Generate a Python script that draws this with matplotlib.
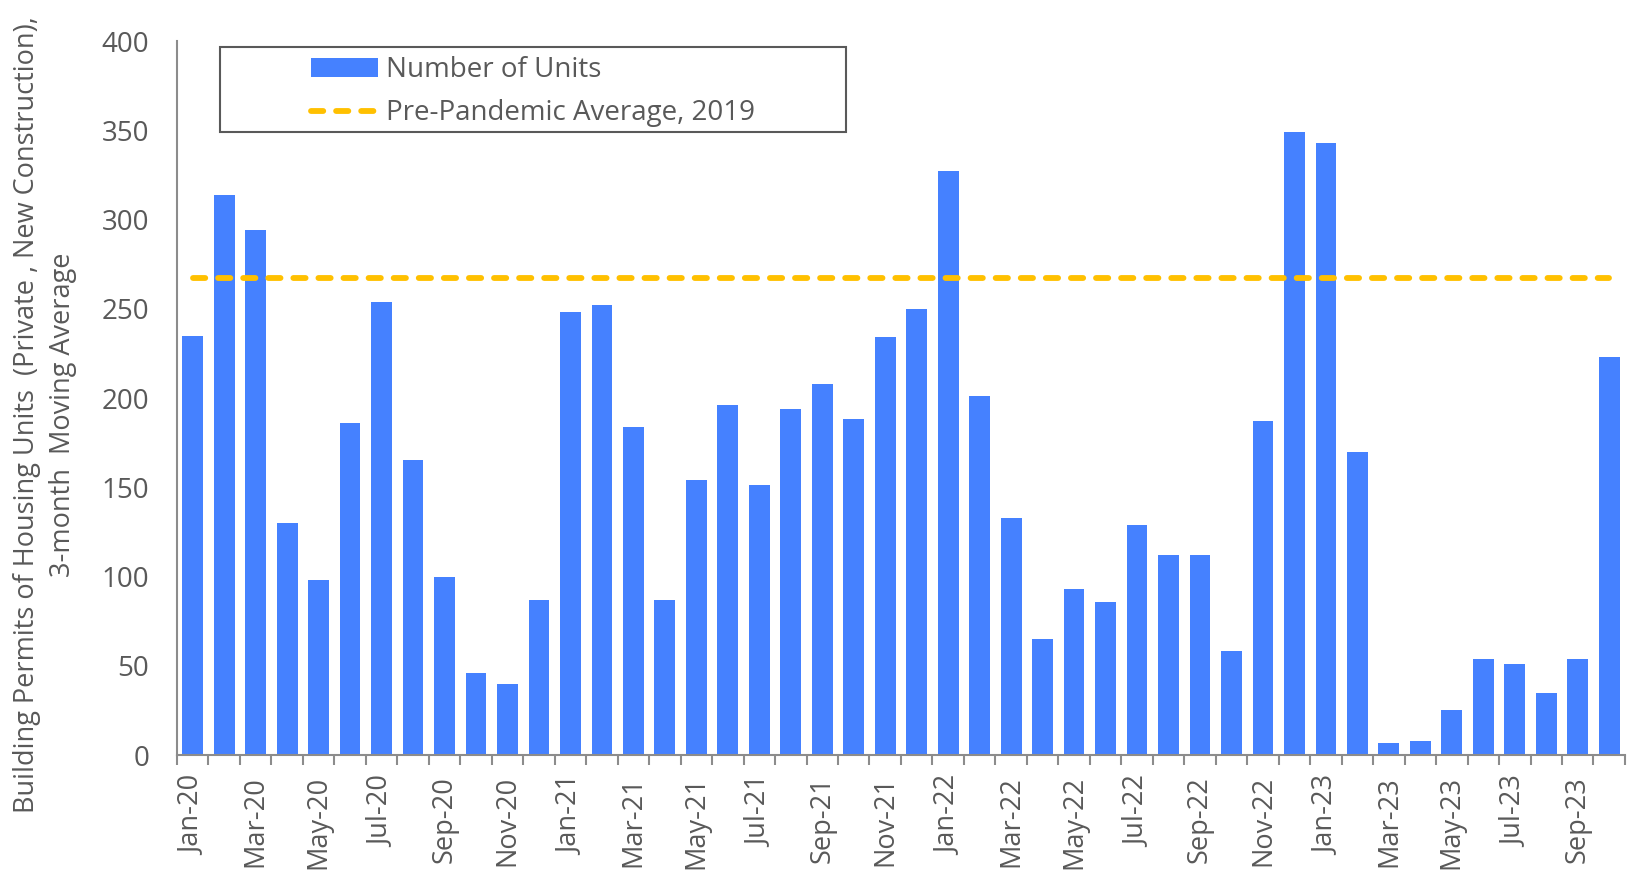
import matplotlib
matplotlib.use("Agg")
import matplotlib.pyplot as plt
from matplotlib.patches import Rectangle
import numpy as np

# monthly labels Jan-20 .. Oct-23
months = ["Jan", "Feb", "Mar", "Apr", "May", "Jun", "Jul", "Aug", "Sep", "Oct", "Nov", "Dec"]
years = ["20", "21", "22", "23"]
labels = [m + "-" + y for y in years for m in months][:46]

units = [235, 314, 294, 130, 98, 186, 254, 165, 100, 46, 40, 87,
         248, 252, 184, 87, 154, 196, 151, 194, 208, 188, 234, 250,
         327, 201, 133, 65, 93, 86, 129, 112, 112, 58, 187, 349,
         343, 170, 7, 8, 25, 54, 51, 35, 54, 223]
pre_pandemic_avg = 267

blue = "#4581FF"
gold = "#FFC000"
txt = "#595959"
axc = "#8C8C8C"

plt.rcParams["font.family"] = ["Open Sans", "DejaVu Sans"]

fig = plt.figure(figsize=(16.31, 8.77), dpi=100)
ax = fig.add_axes([0.1085, 0.1391, 0.8878, 0.8141])

x = np.arange(len(units))
bars = ax.bar(x, units, width=0.66, color=blue, label="Number of Units", zorder=2)
avg_line, = ax.plot(x, [pre_pandemic_avg] * len(x), color=gold, lw=4.2, dashes=(2.1, 2.2),
                    dash_capstyle="round", label="Pre-Pandemic Average, 2019", zorder=3)

ax.set_xlim(-0.5, len(units) - 0.5)
ax.set_ylim(0, 400)
ax.set_yticks(np.arange(0, 401, 50))
ax.tick_params(axis="y", length=0, pad=20, labelsize=20, labelcolor=txt)

ax.set_xticks(x[::2])
ax.set_xticklabels(labels[::2], rotation=90)
ax.set_xticks(np.arange(-0.5, len(units), 1), minor=True)
ax.tick_params(axis="x", which="major", length=0, pad=15, labelsize=19.5, labelcolor=txt)
ax.tick_params(axis="x", which="minor", length=7, width=1.5, color=axc, direction="out")

for s in ["top", "right"]:
    ax.spines[s].set_visible(False)
for s in ["left", "bottom"]:
    ax.spines[s].set_color(axc)
    ax.spines[s].set_linewidth(1.5)

fig.text(0.0276, 0.527,
         "Building Permits of Housing Units  (Private , New Construction),\n3-month  Moving Average",
         rotation=90, ha="center", va="center", multialignment="center",
         fontsize=19.5, color=txt, linespacing=1.35)

# legend box drawn separately, entries sit inside it
fig.patches.append(Rectangle((0.1349, 0.8495), 0.3838, 0.0969, transform=fig.transFigure,
                             fill=False, edgecolor="#595959", lw=1.5))
leg = fig.legend([bars, avg_line], ["Number of Units", "Pre-Pandemic Average, 2019"],
                 loc="upper left", bbox_to_anchor=(311 / 1631, 0.936), frameon=False,
                 fontsize=20, handlelength=2.4, handletextpad=0.3, labelspacing=0.55,
                 borderpad=0, borderaxespad=0)
for t in leg.get_texts():
    t.set_color(txt)

plt.savefig("out.png", dpi=100)
